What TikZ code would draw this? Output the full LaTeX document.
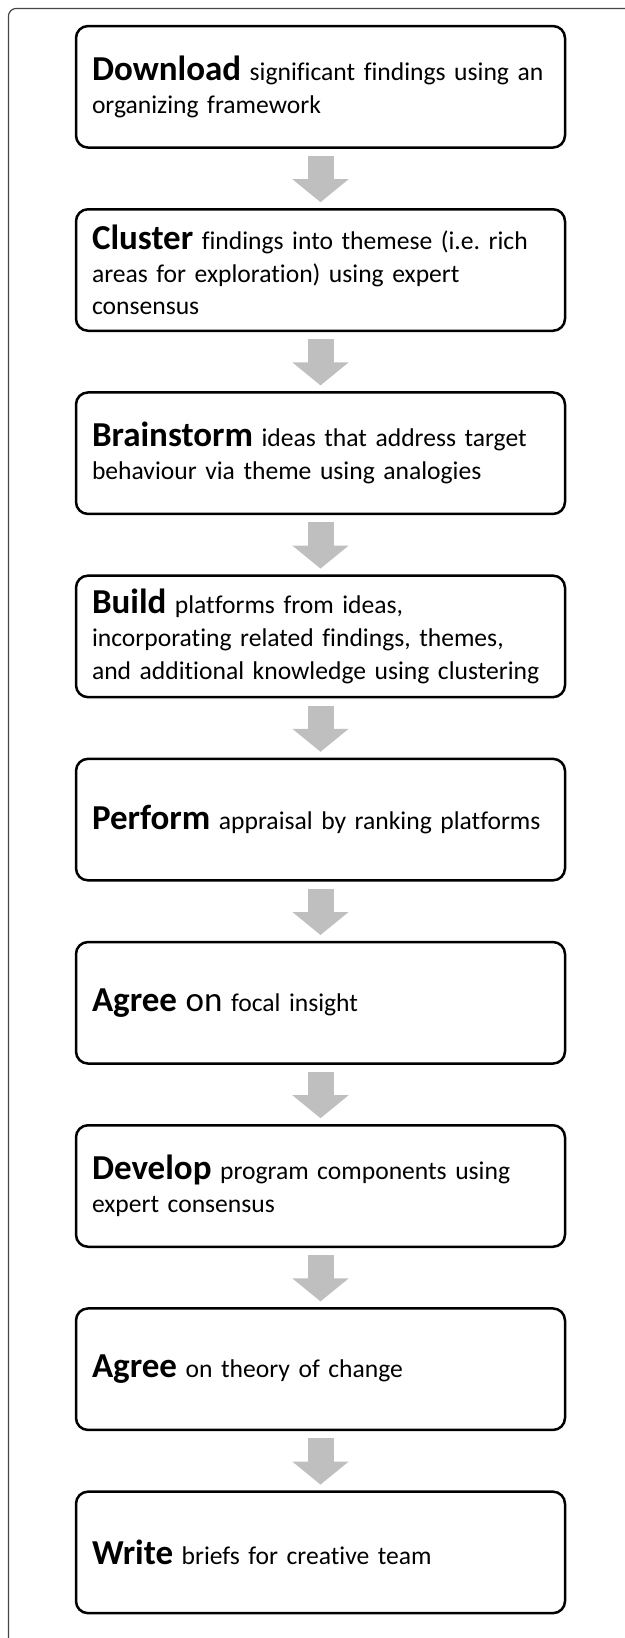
\documentclass[tikz,border=0pt]{standalone}
\usepackage{fontspec}
\setmainfont{Carlito}[Ligatures=NoCommon]
\usetikzlibrary{positioning,arrows.meta}

\definecolor{arrowgray}{RGB}{191,191,191}
\definecolor{framegray}{RGB}{70,70,70}
\newcommand{\stepword}[1]{{\fontsize{17.5}{16.5}\selectfont\bfseries #1}}

\begin{document}
\frenchspacing
\begin{tikzpicture}[
  stepbox/.style={draw, line width=1.25pt, rounded corners=6pt,
    minimum height=60.75pt, text width=228.5pt, inner xsep=8pt, inner ysep=2pt,
    align=left, font=\fontsize{12.8}{16.3}\selectfont},
  downarrow/.style={arrowgray, line width=13pt,
    -{Triangle[width=27.5pt, length=11.5pt]}},
  node distance=29.6pt
]
\def \gapin {3.6pt} % room under a box, above the arrow
\def \gapout {2.9pt}

\useasboundingbox (0,0) rectangle (312.5pt,-819pt);
\draw[framegray, line width=0.6pt, rounded corners=4pt]
  (4.2pt,-819pt) |- (312.5pt,-4.2pt);

\node[stepbox] (download) at (160.25pt,-43.4pt)
  {\stepword{Download} significant findings using an\\organizing framework};
\node[stepbox, below=of download] (cluster)
  {\stepword{Cluster} findings into themese (i.e. rich\\areas for exploration) using expert\\consensus};
\node[stepbox, below=of cluster] (brainstorm)
  {\stepword{Brainstorm} ideas that address target\\behaviour via theme using analogies};
\node[stepbox, below=of brainstorm] (build)
  {\stepword{Build} platforms from ideas,\\incorporating related findings, themes,\\and additional knowledge using clustering};
\node[stepbox, below=of build] (perform)
  {\stepword{Perform} appraisal by ranking platforms};
\node[stepbox, below=of perform] (agreefocus)
  {\stepword{Agree} {\fontsize{17.5}{16.5}\selectfont on} focal insight};
\node[stepbox, below=of agreefocus] (develop)
  {\stepword{Develop} program components using\\expert consensus};
\node[stepbox, below=of develop] (agreetheory)
  {\stepword{Agree} on theory of change};
\node[stepbox, below=of agreetheory] (write)
  {\stepword{Write} briefs for creative team};

\draw[downarrow] ([yshift=-\gapin]download.south) -- ([yshift=\gapout]cluster.north);
\draw[downarrow] ([yshift=-\gapin]cluster.south) -- ([yshift=\gapout]brainstorm.north);
\draw[downarrow] ([yshift=-\gapin]brainstorm.south) -- ([yshift=\gapout]build.north);
\draw[downarrow] ([yshift=-\gapin]build.south) -- ([yshift=\gapout]perform.north);
\draw[downarrow] ([yshift=-\gapin]perform.south) -- ([yshift=\gapout]agreefocus.north);
\draw[downarrow] ([yshift=-\gapin]agreefocus.south) -- ([yshift=\gapout]develop.north);
\draw[downarrow] ([yshift=-\gapin]develop.south) -- ([yshift=\gapout]agreetheory.north);
\draw[downarrow] ([yshift=-\gapin]agreetheory.south) -- ([yshift=\gapout]write.north);
\end{tikzpicture}
\end{document}
